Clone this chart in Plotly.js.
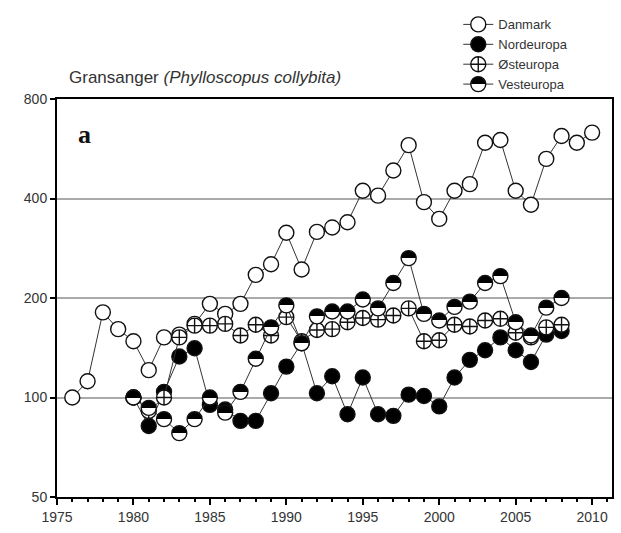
<!DOCTYPE html>
<html>
<head>
<meta charset="utf-8">
<script src="https://cdn.plot.ly/plotly-3.0.1.min.js"></script>
<style>
  html, body { margin: 0; padding: 0; background: #fff; }
  #chart { width: 621px; height: 533px; }
</style>
</head>
<body>
<div id="chart"></div>
<script>
// years
var yearsDk = [1976, 1977, 1978, 1979, 1980, 1981, 1982, 1983, 1984, 1985, 1986, 1987,
  1988, 1989, 1990, 1991, 1992, 1993, 1994, 1995, 1996, 1997, 1998, 1999, 2000,
  2001, 2002, 2003, 2004, 2005, 2006, 2007, 2008, 2009, 2010];
var yearsEu = [1980, 1981, 1982, 1983, 1984, 1985, 1986, 1987, 1988, 1989, 1990,
  1991, 1992, 1993, 1994, 1995, 1996, 1997, 1998, 1999, 2000, 2001, 2002, 2003,
  2004, 2005, 2006, 2007, 2008];

// index values
var danmark = [100, 112, 181, 161, 148, 121, 152, 155, 167, 192, 179, 192,
  235, 253, 315, 244, 317, 327, 339, 422, 408, 486, 580, 390, 347,
  422, 442, 590, 601, 422, 383, 527, 618, 590, 633];
var nordeuropa = [100, 82, 104, 133, 141, 95, 92, 85, 85, 103, 124,
  146, 103, 116, 89, 115, 89, 88, 102, 101, 94, 115, 130, 139,
  152, 139, 128, 155, 159];
var osteuropa = [100, 91, 100, 152, 165, 165, 167, 154, 166, 154, 175,
  148, 160, 161, 169, 174, 172, 177, 186, 148, 149, 166, 164, 171,
  173, 157, 152, 163, 166];
var vesteuropa = [100, 93, 86, 78, 86, 100, 90, 104, 131, 163, 190,
  146, 176, 182, 182, 198, 186, 222, 264, 179, 171, 188, 195, 222,
  233, 169, 154, 187, 200];

var yTicks = [50, 100, 200, 400, 800];
var xTicks = [1975, 1980, 1985, 1990, 1995, 2000, 2005, 2010];

var lineStyle = {color: '#333', width: 1};
var mk = function (sym, fill) {
  return {symbol: sym, size: 15, color: fill, line: {color: '#111', width: 1.4}};
};

// half filled circle: vertical gradient, sharpened after drawing
var vestMarker = mk('circle', '#000');
vestMarker.gradient = {type: 'vertical', color: '#fff'};

var data = [
  {x: yearsDk, y: danmark, name: 'Danmark', mode: 'lines+markers', type: 'scatter',
    line: lineStyle, marker: mk('circle', '#fff')},
  {x: yearsEu, y: nordeuropa, name: 'Nordeuropa', mode: 'lines+markers', type: 'scatter',
    line: lineStyle, marker: mk('circle', '#000')},
  {x: yearsEu, y: osteuropa, name: 'Østeuropa', mode: 'lines+markers', type: 'scatter',
    line: lineStyle, marker: mk('circle-cross', '#fff')},
  {x: yearsEu, y: vesteuropa, name: 'Vesteuropa', mode: 'lines+markers', type: 'scatter',
    line: lineStyle, marker: vestMarker}
];

var layout = {
  width: 621,
  height: 533,
  margin: {l: 57, r: 9, t: 97, b: 36},
  paper_bgcolor: '#fff',
  plot_bgcolor: '#fff',
  font: {family: 'Arial, Liberation Sans, sans-serif', size: 14, color: '#333'},
  showlegend: true,
  legend: {
    x: 0.723, y: 1.225, xanchor: 'left', yanchor: 'top',
    font: {size: 13, color: '#333'},
    bgcolor: 'rgba(0,0,0,0)'
  },
  xaxis: {
    range: [1975, 2011.3],
    tickvals: xTicks,
    ticks: 'outside', ticklen: 6, tickwidth: 1.5, tickcolor: '#000',
    minor: {dtick: 1, ticks: 'outside', ticklen: 3, tickcolor: '#000', showgrid: false},
    showline: true, mirror: true, linewidth: 2, linecolor: '#000',
    showgrid: false, zeroline: false
  },
  yaxis: {
    type: 'log',
    range: [Math.log10(50), Math.log10(800)],
    tickvals: yTicks,
    ticktext: yTicks.map(String),
    ticks: 'outside', ticklen: 5, tickwidth: 1.5, tickcolor: '#000',
    showline: true, mirror: true, linewidth: 2, linecolor: '#000',
    showgrid: true, gridcolor: '#aaa', gridwidth: 1.5, zeroline: false
  },
  annotations: [
    {text: 'Gransanger <i>(Phylloscopus collybita)</i>', xref: 'paper', yref: 'paper',
      x: 0.018, y: 1.055, xanchor: 'left', yanchor: 'middle', showarrow: false,
      font: {size: 17, color: '#333'}},
    {text: '<b>a</b>', xref: 'paper', yref: 'paper', x: 0.05, y: 0.91,
      xanchor: 'center', yanchor: 'middle', showarrow: false,
      font: {family: 'Liberation Serif, DejaVu Serif, serif', size: 26, color: '#111'}}
  ]
};

var gd = document.getElementById('chart');
Plotly.newPlot(gd, data, layout, {displayModeBar: false}).then(function () {
  var ns = 'http://www.w3.org/2000/svg';
  gd.querySelectorAll('linearGradient').forEach(function (g) {
    g.setAttribute('x1', '0'); g.setAttribute('y1', '0');
    g.setAttribute('x2', '0'); g.setAttribute('y2', '1');
    while (g.firstChild) g.removeChild(g.firstChild);
    [[0, '#000'], [0.5, '#000'], [0.5, '#fff'], [1, '#fff']].forEach(function (s) {
      var st = document.createElementNS(ns, 'stop');
      st.setAttribute('offset', s[0]);
      st.setAttribute('stop-color', s[1]);
      g.appendChild(st);
    });
  });
});
</script>
</body>
</html>
